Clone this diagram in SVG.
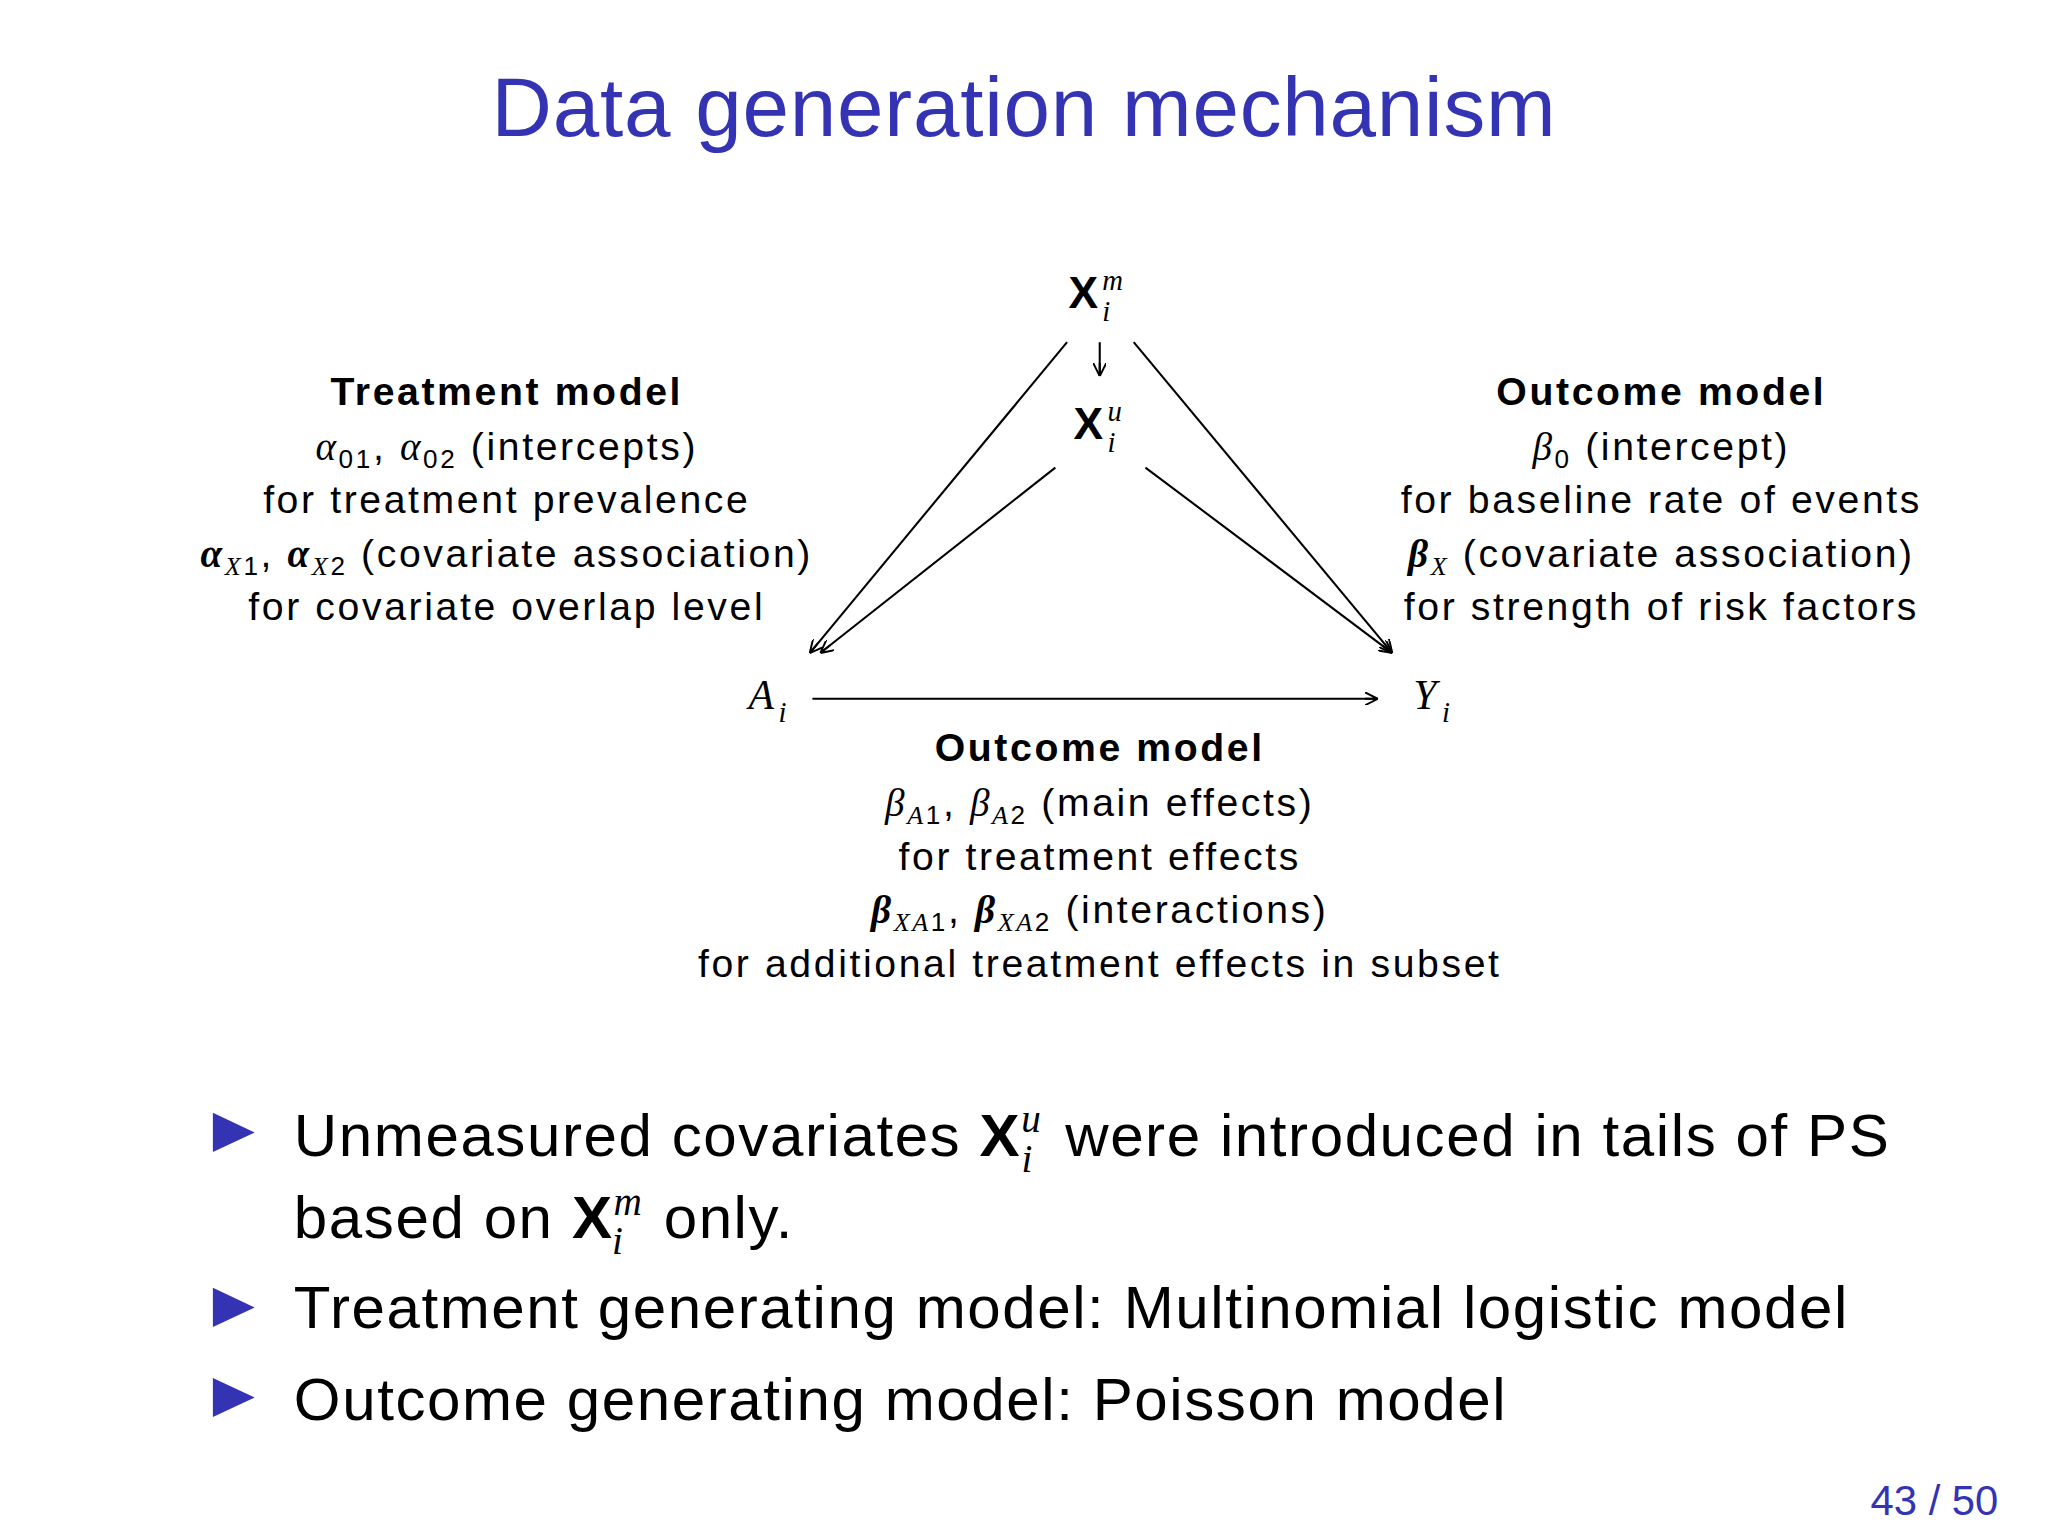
<svg xmlns="http://www.w3.org/2000/svg" width="2048" height="1536" viewBox="0 0 2048 1536">
<style>
text{font-family:"Liberation Sans","DejaVu Sans",sans-serif;fill:#000}
.t{font-size:30px;text-anchor:middle;letter-spacing:2px}
.b{font-weight:bold}
.m{font-family:"Liberation Serif",serif;font-style:italic}
.n{font-size:34px}
.bl{font-size:46px;letter-spacing:1.2px}
line{stroke:#000;stroke-width:1.6}
</style>
<defs><marker id="ah" viewBox="0 0 10 10" refX="10" refY="5" markerWidth="10" markerHeight="10" markerUnits="userSpaceOnUse" orient="auto"><path d="M0,0 L10,5 L0,10 M10,5 L0,5" fill="none" stroke="#000" stroke-width="1.5"/></marker></defs>
<rect width="2048" height="1536" fill="#fff"/>
<g transform="scale(1.3061)">
<text x="784" y="104" style="font-size:64px;fill:#3333b3;text-anchor:middle;letter-spacing:0.6px">Data generation mechanism</text>
<g id="Xm"><text x="818" y="236" class="n b">X</text><text x="844" y="222" class="m" font-size="22">m</text><text x="844" y="246" class="m" font-size="22">i</text></g>
<g id="Xu"><text x="822" y="336" class="n b">X</text><text x="848" y="322" class="m" font-size="22">u</text><text x="848" y="346" class="m" font-size="22">i</text></g>
<g id="A"><text x="573" y="543" class="m" font-size="32">A</text><text x="596" y="553" class="m" font-size="22">i</text></g>
<g id="Y"><text x="1082" y="543" class="m" font-size="32">Y</text><text x="1104" y="553" class="m" font-size="22">i</text></g>
<g id="connectors">
<line x1="842" y1="262" x2="842" y2="288" marker-end="url(#ah)"/>
<line x1="817" y1="262" x2="620" y2="500" marker-end="url(#ah)"/>
<line x1="808" y1="358" x2="628" y2="500" marker-end="url(#ah)"/>
<line x1="868" y1="262" x2="1066" y2="500" marker-end="url(#ah)"/>
<line x1="877" y1="358" x2="1066" y2="500" marker-end="url(#ah)"/>
<line x1="622" y1="535" x2="1055" y2="535" marker-end="url(#ah)"/>
</g>
<g id="treat">
<text x="388" y="310" class="t b">Treatment model</text>
<text x="388" y="352" class="t"><tspan class="m">α</tspan><tspan font-size="20" dy="6">01</tspan><tspan dy="-6">, </tspan><tspan class="m">α</tspan><tspan font-size="20" dy="6">02</tspan><tspan dy="-6"> (intercepts)</tspan></text>
<text x="388" y="393" class="t">for treatment prevalence</text>
<text x="388" y="434" class="t"><tspan class="m b">α</tspan><tspan font-size="20" dy="6" class="m">X</tspan><tspan font-size="20">1</tspan><tspan dy="-6">, </tspan><tspan class="m b">α</tspan><tspan font-size="20" dy="6" class="m">X</tspan><tspan font-size="20">2</tspan><tspan dy="-6"> (covariate association)</tspan></text>
<text x="388" y="475" class="t">for covariate overlap level</text>
</g>
<g id="outcome1">
<text x="1272" y="310" class="t b">Outcome model</text>
<text x="1272" y="352" class="t"><tspan class="m">β</tspan><tspan font-size="20" dy="6">0</tspan><tspan dy="-6"> (intercept)</tspan></text>
<text x="1272" y="393" class="t">for baseline rate of events</text>
<text x="1272" y="434" class="t"><tspan class="m b">β</tspan><tspan font-size="20" dy="6" class="m">X</tspan><tspan dy="-6"> (covariate association)</tspan></text>
<text x="1272" y="475" class="t">for strength of risk factors</text>
</g>
<g id="outcome2">
<text x="842" y="583" class="t b">Outcome model</text>
<text x="842" y="625" class="t"><tspan class="m">β</tspan><tspan font-size="20" dy="6" class="m">A</tspan><tspan font-size="20">1</tspan><tspan dy="-6">, </tspan><tspan class="m">β</tspan><tspan font-size="20" dy="6" class="m">A</tspan><tspan font-size="20">2</tspan><tspan dy="-6"> (main effects)</tspan></text>
<text x="842" y="666" class="t">for treatment effects</text>
<text x="842" y="707" class="t"><tspan class="m b">β</tspan><tspan font-size="20" dy="6" class="m">XA</tspan><tspan font-size="20">1</tspan><tspan dy="-6">, </tspan><tspan class="m b">β</tspan><tspan font-size="20" dy="6" class="m">XA</tspan><tspan font-size="20">2</tspan><tspan dy="-6"> (interactions)</tspan></text>
<text x="842" y="748" class="t">for additional treatment effects in subset</text>
</g>
<g id="bullets" fill="#3333b3">
<path d="M163,852 L195,867 L163,882Z"/><path d="M163,986 L195,1001 L163,1016Z"/><path d="M163,1055 L195,1070 L163,1085Z"/>
<text x="225" y="885" class="bl">Unmeasured covariates <tspan class="b">X</tspan><tspan class="m" font-size="30" dy="-18">u</tspan><tspan class="m" font-size="30" dx="-16" dy="30">i</tspan><tspan dx="10" dy="-12"> were introduced in tails of PS</tspan></text>
<text x="225" y="948" class="bl">based on <tspan class="b">X</tspan><tspan class="m" font-size="30" dy="-18">m</tspan><tspan class="m" font-size="30" dx="-24" dy="30">i</tspan><tspan dx="16" dy="-12"> only.</tspan></text>
<text x="225" y="1017" class="bl">Treatment generating model: Multinomial logistic model</text>
<text x="225" y="1087" class="bl">Outcome generating model: Poisson model</text>
</g>
<text x="1530" y="1160" style="font-size:32px;fill:#3333b3;text-anchor:end">43 / 50</text>
</g>
</svg>
